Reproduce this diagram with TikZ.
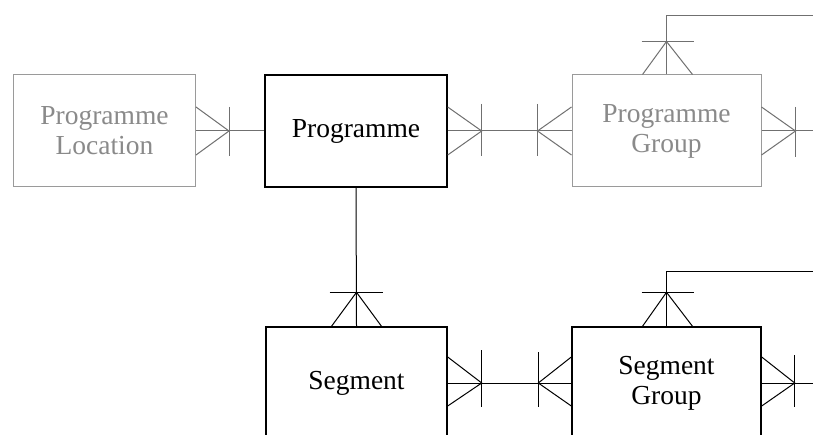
\documentclass[tikz,border=0pt]{standalone}
\usepackage{fontspec}
\setmainfont{Liberation Serif}
\definecolor{boxgray}{HTML}{9A9A9A}
\definecolor{txtgray}{HTML}{8A8A8A}
\definecolor{lngray}{HTML}{707070}
\tikzset{
  ent/.style={draw, rectangle, minimum width=182pt, minimum height=112pt, inner sep=0pt,
    align=center, font=\fontsize{27.5}{30}\selectfont},
  entblack/.style={ent, draw=black, line width=1.4pt, text=black},
  entgray/.style={ent, draw=boxgray, line width=1pt, text=txtgray},
  lnk/.style={line width=1pt},
}
\begin{document}
\begin{tikzpicture}[x=1pt,y=-1pt]
\useasboundingbox (0,0) rectangle (813,435);
\clip (0,0) rectangle (813,435);
\fill[white] (0,0) rectangle (813,435);
% entities
\node[entgray] (ploc) at (104.5,131) {Programme\\Location};
\node[entblack] (prog) at (356,131) {Programme};
\node[entgray, minimum width=189pt] (pgrp) at (666.5,131) {Programme\\Group};
\node[entblack, minimum width=181pt] (seg) at (356.5,383) {Segment};
\node[entblack, minimum width=189pt] (sgrp) at (666.5,383) {Segment\\Group};
% free ends
\coordinate (pgout) at (813,131);
\coordinate (sgout) at (813,383);
\coordinate (pgtop) at (813,16);
\coordinate (sgtop) at (813,272);
% ---- top row connectors (gray)
\begin{scope}[lnk, draw=lngray]
\draw (ploc.east) -- (prog.west);
\draw (prog.east) -- (pgrp.west);
\draw (pgrp.east) -- (pgout);
\draw (pgrp.north) |- (pgtop);
% Programme Location crow's foot
\draw ([yshift=24]ploc.east) -- ([xshift=33]ploc.east) -- ([yshift=-24]ploc.east);
\draw ([xshift=33,yshift=24]ploc.east) -- ([xshift=33,yshift=-25]ploc.east);
% Programme -> Programme Group
\draw ([yshift=24]prog.east) -- ([xshift=34]prog.east) -- ([yshift=-24]prog.east);
\draw ([xshift=34,yshift=27]prog.east) -- ([xshift=34,yshift=-25]prog.east);
\draw ([yshift=24]pgrp.west) -- ([xshift=-34]pgrp.west) -- ([yshift=-24]pgrp.west);
\draw ([xshift=-34,yshift=27]pgrp.west) -- ([xshift=-34,yshift=-25]pgrp.west);
% Programme Group right
\draw ([yshift=24]pgrp.east) -- ([xshift=34]pgrp.east) -- ([yshift=-24]pgrp.east);
\draw ([xshift=34,yshift=24]pgrp.east) -- ([xshift=34,yshift=-26]pgrp.east);
% Programme Group top
\draw ([xshift=-24]pgrp.north) -- ([yshift=33]pgrp.north) -- ([xshift=26]pgrp.north);
\draw ([xshift=-25,yshift=33]pgrp.north) -- ([xshift=27,yshift=33]pgrp.north);
\end{scope}
% ---- bottom connectors (black)
\begin{scope}[lnk, draw=black]
\draw (prog.south) -- (seg.north);
\draw (seg.east) -- (sgrp.west);
\draw (sgrp.east) -- (sgout);
\draw (sgrp.north) |- (sgtop);
% Segment top
\draw ([xshift=-25]seg.north) -- ([yshift=34]seg.north) -- ([xshift=25]seg.north);
\draw ([xshift=-27,yshift=34]seg.north) -- ([xshift=26,yshift=34]seg.north);
% Segment -> Segment Group
\draw ([yshift=26]seg.east) -- ([xshift=34]seg.east) -- ([yshift=-23]seg.east);
\draw ([xshift=34,yshift=33]seg.east) -- ([xshift=34,yshift=-24]seg.east);
\draw ([yshift=26]sgrp.west) -- ([xshift=-33]sgrp.west) -- ([yshift=-23]sgrp.west);
\draw ([xshift=-33,yshift=31]sgrp.west) -- ([xshift=-33,yshift=-24]sgrp.west);
% Segment Group right
\draw ([yshift=26]sgrp.east) -- ([xshift=33]sgrp.east) -- ([yshift=-23]sgrp.east);
\draw ([xshift=33,yshift=28]sgrp.east) -- ([xshift=33,yshift=-24]sgrp.east);
% Segment Group top
\draw ([xshift=-24]sgrp.north) -- ([yshift=34]sgrp.north) -- ([xshift=26]sgrp.north);
\draw ([xshift=-25,yshift=34]sgrp.north) -- ([xshift=27,yshift=34]sgrp.north);
\end{scope}
\end{tikzpicture}
\end{document}
